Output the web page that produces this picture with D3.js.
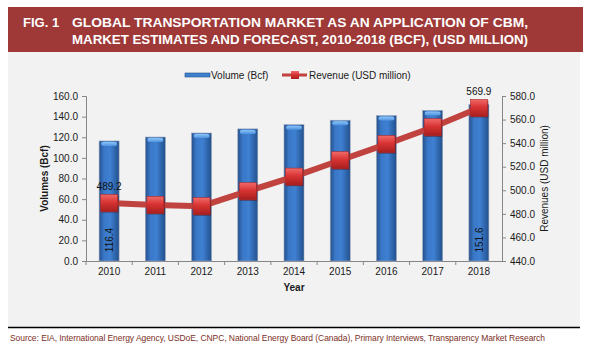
<!DOCTYPE html>
<html>
<head>
<meta charset="utf-8">
<script src="https://cdn.jsdelivr.net/npm/d3@7"></script>
<style>
  body { margin: 0; background: #fff; }
  svg { display: block; font-family: "Liberation Sans", Arial, sans-serif; }
</style>
</head>
<body>
<div id="chart"></div>
<script>
// data
var years = ["2010", "2011", "2012", "2013", "2014", "2015", "2016", "2017", "2018"];
var volume = [116.4, 120.2, 124.1, 128.1, 132.2, 136.5, 141.0, 146.0, 151.6];
var revenue = [489.2, 487.6, 486.5, 499.2, 511.6, 525.5, 539.2, 553.5, 569.9];
var leftTicks = [0, 20, 40, 60, 80, 100, 120, 140, 160];
var rightTicks = [440, 460, 480, 500, 520, 540, 560, 580];

var W = 590, H = 354;
var plot = {left: 86, right: 502, top: 96, bottom: 261};

var svg = d3.select("#chart")
  .append("svg")
    .attr("width", W)
    .attr("height", H);

var defs = svg.append("defs");
var bg = defs.append("linearGradient").attr("id", "barGrad").attr("x1", 0).attr("x2", 1).attr("y1", 0).attr("y2", 0);
bg.append("stop").attr("offset", "0%").attr("stop-color", "#24508c");
bg.append("stop").attr("offset", "25%").attr("stop-color", "#3a78c8");
bg.append("stop").attr("offset", "55%").attr("stop-color", "#3f80d2");
bg.append("stop").attr("offset", "100%").attr("stop-color", "#22508c");
var cg = defs.append("linearGradient").attr("id", "capGrad").attr("x1", 0).attr("x2", 0).attr("y1", 0).attr("y2", 1);
cg.append("stop").attr("offset", "0%").attr("stop-color", "#8cc4f8");
cg.append("stop").attr("offset", "100%").attr("stop-color", "#4f94e0");
var mg = defs.append("linearGradient").attr("id", "mkGrad").attr("x1", 0).attr("x2", 0).attr("y1", 0).attr("y2", 1);
mg.append("stop").attr("offset", "0%").attr("stop-color", "#f06a68");
mg.append("stop").attr("offset", "45%").attr("stop-color", "#d83434");
mg.append("stop").attr("offset", "100%").attr("stop-color", "#a81e1e");

// header + panel
svg.append("rect").attr("x", 8).attr("y", 7).attr("width", 575).attr("height", 45).attr("fill", "#9e3938");
svg.append("rect").attr("x", 8).attr("y", 52).attr("width", 572).attr("height", 275).attr("fill", "#f2f2f2");
svg.append("line").attr("x1", 8).attr("x2", 580).attr("y1", 327.5).attr("y2", 327.5).attr("stroke", "#000").attr("stroke-width", 1.5);

var title = svg.append("g").attr("fill", "#fff").style("font-size", "13px").style("font-weight", "bold");
title.append("text").attr("x", 23).attr("y", 27).text("FIG. 1");
title.append("text").attr("x", 72).attr("y", 27).attr("textLength", 456).attr("lengthAdjust", "spacingAndGlyphs")
  .text("GLOBAL TRANSPORTATION MARKET AS AN APPLICATION OF CBM,");
title.append("text").attr("x", 72).attr("y", 44).attr("textLength", 456).attr("lengthAdjust", "spacingAndGlyphs")
  .text("MARKET ESTIMATES AND FORECAST, 2010-2018 (BCF), (USD MILLION)");

svg.append("text").attr("x", 10).attr("y", 341).attr("fill", "#7b3026").style("font-size", "8.5px")
  .attr("textLength", 535).attr("lengthAdjust", "spacing")
  .text("Source:  EIA,  International   Energy  Agency,  USDoE,  CNPC,  National  Energy  Board  (Canada),  Primary  Interviews,   Transparency   Market  Research");

// scales
var x = d3.scaleBand().domain(years).range([plot.left, plot.right]).padding(0);
var yL = d3.scaleLinear().domain([0, 160]).range([plot.bottom, plot.top]);
var yR = d3.scaleLinear().domain([440, 580]).range([plot.bottom, plot.top]);
var bw = 20;

// axes
var axisColor = "#868686";
var gl = svg.append("g").attr("transform", "translate(" + plot.left + ",0)")
  .call(d3.axisLeft(yL).tickValues(leftTicks).tickFormat(d3.format(".1f")).tickSize(4).tickPadding(4));
var gr = svg.append("g").attr("transform", "translate(" + plot.right + ",0)")
  .call(d3.axisRight(yR).tickValues(rightTicks).tickFormat(d3.format(".1f")).tickSize(4).tickPadding(4));
var gb = svg.append("g").attr("transform", "translate(0," + plot.bottom + ")")
  .call(d3.axisBottom(x).tickSize(0).tickPadding(7));
gb.selectAll(".tick")
  .append("line")
  .attr("x1", -x.bandwidth() / 2).attr("x2", -x.bandwidth() / 2)
  .attr("y1", 0).attr("y2", 4).attr("stroke", axisColor);
[gl, gr, gb].forEach(function(g) {
  g.selectAll("path.domain").attr("stroke", axisColor);
  g.selectAll("line").attr("stroke", axisColor);
  g.selectAll("text").style("font-size", "10px").attr("fill", "#1a1a1a").style("font-family", "Liberation Sans, Arial, sans-serif");
});

svg.append("text").attr("transform", "translate(48," + ((plot.top + plot.bottom) / 2) + ") rotate(-90)")
  .attr("text-anchor", "middle").style("font-size", "10px").style("font-weight", "bold").attr("fill", "#1a1a1a")
  .text("Volumes (Bcf)");
svg.append("text").attr("transform", "translate(548," + ((plot.top + plot.bottom) / 2) + ") rotate(-90)")
  .attr("text-anchor", "middle").style("font-size", "10px").attr("fill", "#1a1a1a")
  .text("Revenues (USD million)");
svg.append("text").attr("x", (plot.left + plot.right) / 2).attr("y", 291).attr("text-anchor", "middle")
  .style("font-size", "10px").style("font-weight", "bold").attr("fill", "#1a1a1a").text("Year");

// bars
var bars = svg.append("g");
var cx = function(i) { return x(years[i]) + x.bandwidth() / 2; };
bars.selectAll("rect.bar").data(volume).join("rect")
  .attr("class", "bar")
  .attr("x", function(d, i) { return cx(i) - bw / 2; })
  .attr("y", function(d) { return yL(d); })
  .attr("width", bw)
  .attr("height", function(d) { return plot.bottom - yL(d); })
  .attr("fill", "url(#barGrad)")
  .attr("stroke", "#9aa6b8").attr("stroke-width", 0.6);
bars.selectAll("rect.cap").data(volume).join("rect")
  .attr("class", "cap")
  .attr("x", function(d, i) { return cx(i) - bw / 2 + 2; })
  .attr("y", function(d) { return yL(d) + 1; })
  .attr("width", bw - 4).attr("height", 4).attr("rx", 2)
  .attr("fill", "url(#capGrad)");

// revenue line
svg.append("path").datum(revenue)
  .attr("fill", "none").attr("stroke", "#c0433f").attr("stroke-width", 6)
  .attr("d", d3.line().x(function(d, i) { return cx(i); }).y(function(d) { return yR(d); }));

var mk = 17;
svg.append("g").selectAll("rect").data(revenue).join("rect")
  .attr("x", function(d, i) { return cx(i) - mk / 2 + 1; })
  .attr("y", function(d) { return yR(d) - mk / 2 + 1; })
  .attr("width", mk).attr("height", mk).attr("fill", "#5a1010").attr("opacity", 0.6);
svg.append("g").selectAll("rect").data(revenue).join("rect")
  .attr("x", function(d, i) { return cx(i) - mk / 2; })
  .attr("y", function(d) { return yR(d) - mk / 2; })
  .attr("width", mk).attr("height", mk).attr("fill", "url(#mkGrad)")
  .attr("stroke", "#b02828").attr("stroke-width", 0.6);

// data labels
var lab = svg.append("g").style("font-size", "10px").attr("fill", "#111");
[0, 8].forEach(function(i) {
  lab.append("text").attr("x", cx(i)).attr("y", yR(revenue[i]) - 13).attr("text-anchor", "middle")
    .text(revenue[i].toFixed(1));
  lab.append("text").attr("transform", "translate(" + (cx(i) + 4) + "," + (plot.bottom - 21) + ") rotate(-90)")
    .attr("text-anchor", "middle").text(volume[i].toFixed(1));
});

// legend
var leg = svg.append("g").style("font-size", "10px").attr("fill", "#1a1a1a");
leg.append("rect").attr("x", 185).attr("y", 73).attr("width", 25).attr("height", 4).attr("fill", "#3f7fd0").attr("stroke", "#24508c").attr("stroke-width", 0.6);
leg.append("text").attr("x", 211).attr("y", 79).text("Volume (Bcf)");
leg.append("line").attr("x1", 282).attr("x2", 307).attr("y1", 75).attr("y2", 75).attr("stroke", "#c0433f").attr("stroke-width", 3);
leg.append("rect").attr("x", 291).attr("y", 71).attr("width", 8).attr("height", 8).attr("fill", "url(#mkGrad)");
leg.append("text").attr("x", 309).attr("y", 79).text("Revenue (USD million)");
</script>
</body>
</html>
